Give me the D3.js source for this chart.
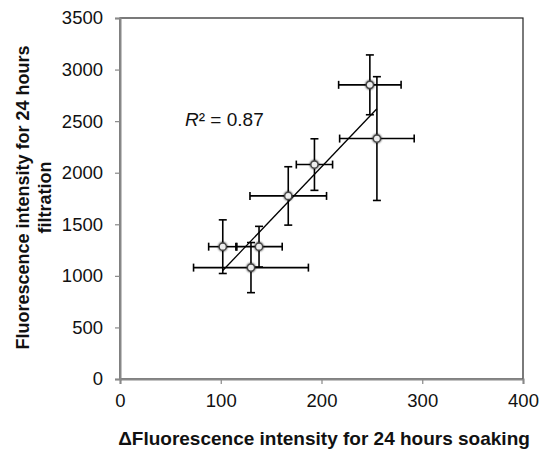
<!DOCTYPE html>
<html lang="en">
<head>
<meta charset="utf-8">
<script src="https://d3js.org/d3.v7.min.js"></script>
<style>
  body { margin: 0; background: #fff; }
  text { font-family: "Liberation Sans", Arial, sans-serif; }
</style>
</head>
<body>
<div id="chart"></div>
<script>
  // values
  var soaking   = [102, 130, 138, 167, 193, 248, 255];
  var filtration = [1283, 1080, 1283, 1775, 2079, 2852, 2331];
  var soakErr   = [14, 57, 23, 38, 18, 31, 37];
  var filtErr   = [260, 243, 197, 283, 250, 290, 600];
  var xTicks = [0, 100, 200, 300, 400];
  var yTicks = [0, 500, 1000, 1500, 2000, 2500, 3000, 3500];
  var r2Label = "0.87";

  var W = 540, H = 453;
  var m = {top: 18, right: 17, bottom: 74, left: 120};

  var svg = d3.select('#chart').append('svg')
      .attr('width', W).attr('height', H);

  var defs = svg.append('defs');
  var f = defs.append('filter').attr('id', 'glow')
      .attr('x', '-100%').attr('y', '-100%').attr('width', '300%').attr('height', '300%');
  f.append('feGaussianBlur').attr('in', 'SourceAlpha').attr('stdDeviation', 1.2).attr('result', 'b');
  var fm = f.append('feMerge');
  fm.append('feMergeNode').attr('in', 'b');
  fm.append('feMergeNode').attr('in', 'SourceGraphic');

  var x = d3.scaleLinear().domain([0, 400]).range([m.left, W - m.right]);
  var y = d3.scaleLinear().domain([0, 3500]).range([H - m.bottom, m.top]);

  var data = soaking.map(function(d, i) {
    return {x: d, y: filtration[i], ex: soakErr[i], ey: filtErr[i]};
  });

  // plot frame (top/right dark)
  svg.append('rect')
      .attr('x', x(0)).attr('y', y(3500))
      .attr('width', x(400) - x(0)).attr('height', y(0) - y(3500))
      .attr('fill', 'none').attr('stroke', '#222').attr('stroke-width', 1.2);

  var xAxis = svg.append('g')
      .attr('transform', 'translate(0,' + y(0) + ')')
      .call(d3.axisBottom(x).tickValues(xTicks).tickFormat(d3.format('d')).tickSize(5).tickPadding(10));
  var yAxis = svg.append('g')
      .attr('transform', 'translate(' + x(0) + ',0)')
      .call(d3.axisLeft(y).tickValues(yTicks).tickFormat(d3.format('d')).tickSize(5).tickPadding(12));

  [xAxis, yAxis].forEach(function(a) {
    a.select('.domain').attr('stroke', '#888').attr('stroke-width', 2);
    a.selectAll('.tick line').attr('stroke', '#888').attr('stroke-width', 1.2);
    a.selectAll('.tick text').attr('font-size', 18.5).attr('fill', '#111')
      .attr('font-family', '"Liberation Sans", Arial, sans-serif');
  });

  // trend line (least squares)
  var mx = d3.mean(soaking), my = d3.mean(filtration);
  var sxy = d3.sum(data, function(d) { return (d.x - mx) * (d.y - my); });
  var sxx = d3.sum(data, function(d) { return (d.x - mx) * (d.x - mx); });
  var slope = sxy / sxx, icpt = my - slope * mx;
  var x0 = d3.min(soaking), x1 = d3.max(soaking);
  svg.append('line')
      .attr('x1', x(x0)).attr('y1', y(icpt + slope * x0))
      .attr('x2', x(x1)).attr('y2', y(icpt + slope * x1))
      .attr('stroke', '#000').attr('stroke-width', 1.3);

  // error bars
  var eb = svg.append('g').attr('stroke', '#000').attr('stroke-width', 1.6);
  var cap = 4;
  data.forEach(function(d) {
    eb.append('line').attr('x1', x(d.x - d.ex)).attr('x2', x(d.x + d.ex))
      .attr('y1', y(d.y)).attr('y2', y(d.y));
    eb.append('line').attr('x1', x(d.x - d.ex)).attr('x2', x(d.x - d.ex))
      .attr('y1', y(d.y) - cap).attr('y2', y(d.y) + cap);
    eb.append('line').attr('x1', x(d.x + d.ex)).attr('x2', x(d.x + d.ex))
      .attr('y1', y(d.y) - cap).attr('y2', y(d.y) + cap);
    eb.append('line').attr('x1', x(d.x)).attr('x2', x(d.x))
      .attr('y1', y(d.y - d.ey)).attr('y2', y(d.y + d.ey));
    eb.append('line').attr('x1', x(d.x) - cap).attr('x2', x(d.x) + cap)
      .attr('y1', y(d.y - d.ey)).attr('y2', y(d.y - d.ey));
    eb.append('line').attr('x1', x(d.x) - cap).attr('x2', x(d.x) + cap)
      .attr('y1', y(d.y + d.ey)).attr('y2', y(d.y + d.ey));
  });

  // markers
  svg.append('g').selectAll('circle')
      .data(data).enter().append('circle')
      .attr('cx', function(d) { return x(d.x); })
      .attr('cy', function(d) { return y(d.y); })
      .attr('r', 3.6)
      .attr('fill', '#eee')
      .attr('stroke', '#444')
      .attr('stroke-width', 1.4)
      .attr('filter', 'url(#glow)');

  // R² label
  var rt = svg.append('text').attr('x', 185).attr('y', 126).attr('font-size', 19).attr('fill', '#111');
  rt.append('tspan').attr('font-style', 'italic').text('R');
  rt.append('tspan').text('² = ' + r2Label);

  // axis titles
  svg.append('text')
      .attr('x', 324).attr('y', 445)
      .attr('text-anchor', 'middle').attr('font-size', 19).attr('font-weight', 'bold')
      .attr('fill', '#111')
      .text('\u0394Fluorescence intensity for 24 hours soaking');

  var yt = svg.append('text')
      .attr('transform', 'translate(0,197.5) rotate(-90)')
      .attr('text-anchor', 'middle').attr('font-size', 18).attr('font-weight', 'bold')
      .attr('fill', '#111');
  yt.append('tspan').attr('x', 0).attr('y', 29).text('Fluorescence intensity for 24 hours');
  yt.append('tspan').attr('x', 0).attr('y', 51).text('filtration');
</script>
</body>
</html>
